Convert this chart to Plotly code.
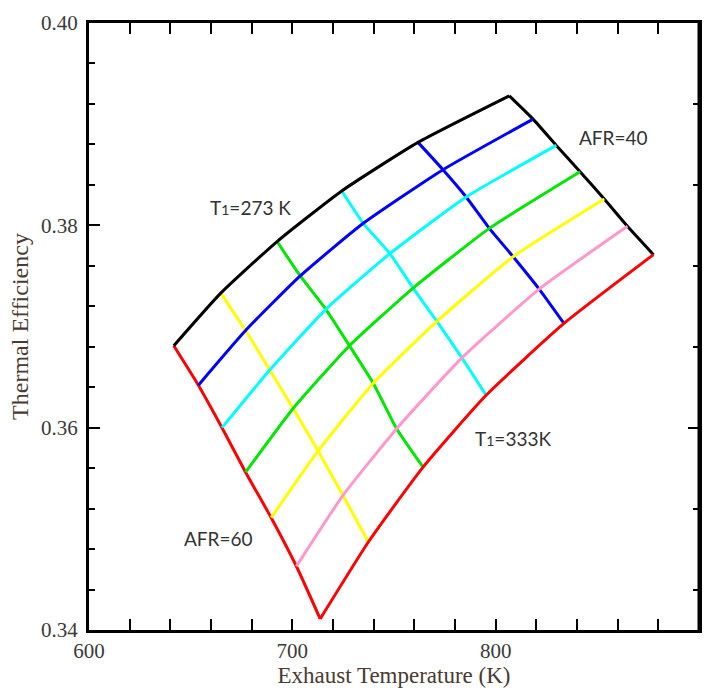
import plotly.graph_objects as go

# Intake temperature (K) for each constant-T1 curve and air-fuel ratios for the cross lines
t1_values = [273, 283, 293, 303, 313, 323, 333]
afr_values = [60, 56, 52, 48, 44, 40]

# Exhaust temperature (K): one row per T1, one column per AFR
exhaust_temp = [
    [641.7, 664.8, 692.5, 724.3, 761.8, 806.7],
    [653.8, 677.0, 703.9, 734.9, 774.1, 818.4],
    [665.4, 688.9, 716.5, 748.0, 785.5, 829.8],
    [677.0, 700.4, 728.1, 759.4, 796.9, 841.5],
    [689.6, 712.7, 739.8, 771.1, 808.6, 853.4],
    [702.0, 724.9, 751.3, 783.4, 821.4, 864.8],
    [713.7, 737.4, 764.3, 795.3, 833.6, 877.6],
]

# Thermal efficiency: same layout as exhaust_temp
thermal_eff = [
    [0.3681, 0.3733, 0.3784, 0.3834, 0.3882, 0.3928],
    [0.3642, 0.3696, 0.3750, 0.3802, 0.3855, 0.3905],
    [0.3600, 0.3657, 0.3717, 0.3772, 0.3828, 0.3879],
    [0.3556, 0.3619, 0.3681, 0.3738, 0.3797, 0.3853],
    [0.3511, 0.3577, 0.3644, 0.3705, 0.3769, 0.3826],
    [0.3463, 0.3533, 0.3599, 0.3669, 0.3737, 0.3799],
    [0.3411, 0.3487, 0.3561, 0.3632, 0.3703, 0.3771],
]

t1_colors = ["#000000", "#0000ff", "#00ffff", "#00e600", "#ffff00", "#ff99cc", "#ff0000"]
afr_colors = ["#ff0000", "#ffff00", "#00e600", "#00ffff", "#0000ff", "#000000"]

x_ticks = [600, 700, 800, 900]
y_ticks = [0.34, 0.36, 0.38, 0.40]
y_right_major = [0.36]
y_right_minor = [0.344, 0.352, 0.368, 0.376, 0.384, 0.392]

LINE_W = 3

fig = go.Figure()

# constant-AFR lines (drawn first)
for j, afr in enumerate(afr_values):
    fig.add_trace(go.Scatter(
        x=[row[j] for row in exhaust_temp],
        y=[row[j] for row in thermal_eff],
        mode="lines",
        line=dict(color=afr_colors[j], width=LINE_W, shape="spline", smoothing=0.5),
        name=f"AFR={afr}",
        showlegend=False,
    ))

# constant-T1 curves
for i, t1 in enumerate(t1_values):
    fig.add_trace(go.Scatter(
        x=exhaust_temp[i],
        y=thermal_eff[i],
        mode="lines",
        line=dict(color=t1_colors[i], width=LINE_W, shape="spline", smoothing=0.5),
        name=f"T1={t1} K",
        showlegend=False,
    ))

# invisible trace to attach the right-hand tick axis
fig.add_trace(go.Scatter(x=[600], y=[0.34], yaxis="y2", mode="markers",
                         marker=dict(opacity=0), showlegend=False, hoverinfo="skip"))

label_font = dict(family="Lato, Open Sans, sans-serif", size=19, color="#333333")
sub = "<span style='font-size:14px'>1</span>"
fig.add_annotation(x=679.6, y=0.3818, text=f"T{sub}=273 K", showarrow=False, font=label_font)
fig.add_annotation(x=857.8, y=0.3887, text="AFR=40", showarrow=False, font=label_font)
fig.add_annotation(x=808.5, y=0.3589, text=f"T{sub}=333K", showarrow=False, font=label_font)
fig.add_annotation(x=663.5, y=0.3490, text="AFR=60", showarrow=False, font=label_font)

# right-hand frame edge
fig.add_shape(type="line", xref="paper", yref="paper", x0=1, x1=1, y0=0, y1=1,
              line=dict(color="black", width=3), layer="above")

serif = "Liberation Serif, Times New Roman, serif"
tick_font = dict(family=serif, size=21, color="#3a3a3a")

fig.update_layout(
    width=713, height=694,
    margin=dict(l=89, r=11, t=19, b=61),
    paper_bgcolor="white",
    plot_bgcolor="white",
    xaxis=dict(
        range=[600, 900],
        tickvals=x_ticks,
        ticktext=[str(v) for v in x_ticks],
        ticks="inside", ticklen=11, tickwidth=2, tickcolor="black",
        minor=dict(dtick=20, tick0=600, ticks="inside", ticklen=6, tickwidth=2, tickcolor="black"),
        showline=True, linecolor="black", linewidth=3, mirror="allticks",
        showgrid=False, zeroline=False,
        tickfont=tick_font,
        title=dict(text="Exhaust Temperature (K)",
                   font=dict(family=serif, size=23, color="#4a3a32"), standoff=4),
    ),
    yaxis=dict(
        range=[0.34, 0.40],
        tickvals=y_ticks,
        ticktext=[f"{v:.2f}" for v in y_ticks],
        ticks="inside", ticklen=11, tickwidth=2, tickcolor="black",
        minor=dict(dtick=0.004, tick0=0.34, ticks="inside", ticklen=6, tickwidth=2, tickcolor="black"),
        showline=True, linecolor="black", linewidth=3, mirror=True,
        showgrid=False, zeroline=False,
        tickfont=tick_font, ticklabelstandoff=4,
        title=dict(text="Thermal Efficiency",
                   font=dict(family=serif, size=24, color="#4a3a32"), standoff=6),
    ),
    yaxis2=dict(
        range=[0.34, 0.40],
        overlaying="y", side="right",
        tickvals=y_right_major,
        ticks="inside", ticklen=11, tickwidth=2, tickcolor="black",
        minor=dict(tickvals=y_right_minor, ticks="inside", ticklen=6, tickwidth=2, tickcolor="black"),
        showticklabels=False, showline=True, linecolor="black", linewidth=3,
        showgrid=False, zeroline=False,
    ),
)

fig.write_html("out.html")
